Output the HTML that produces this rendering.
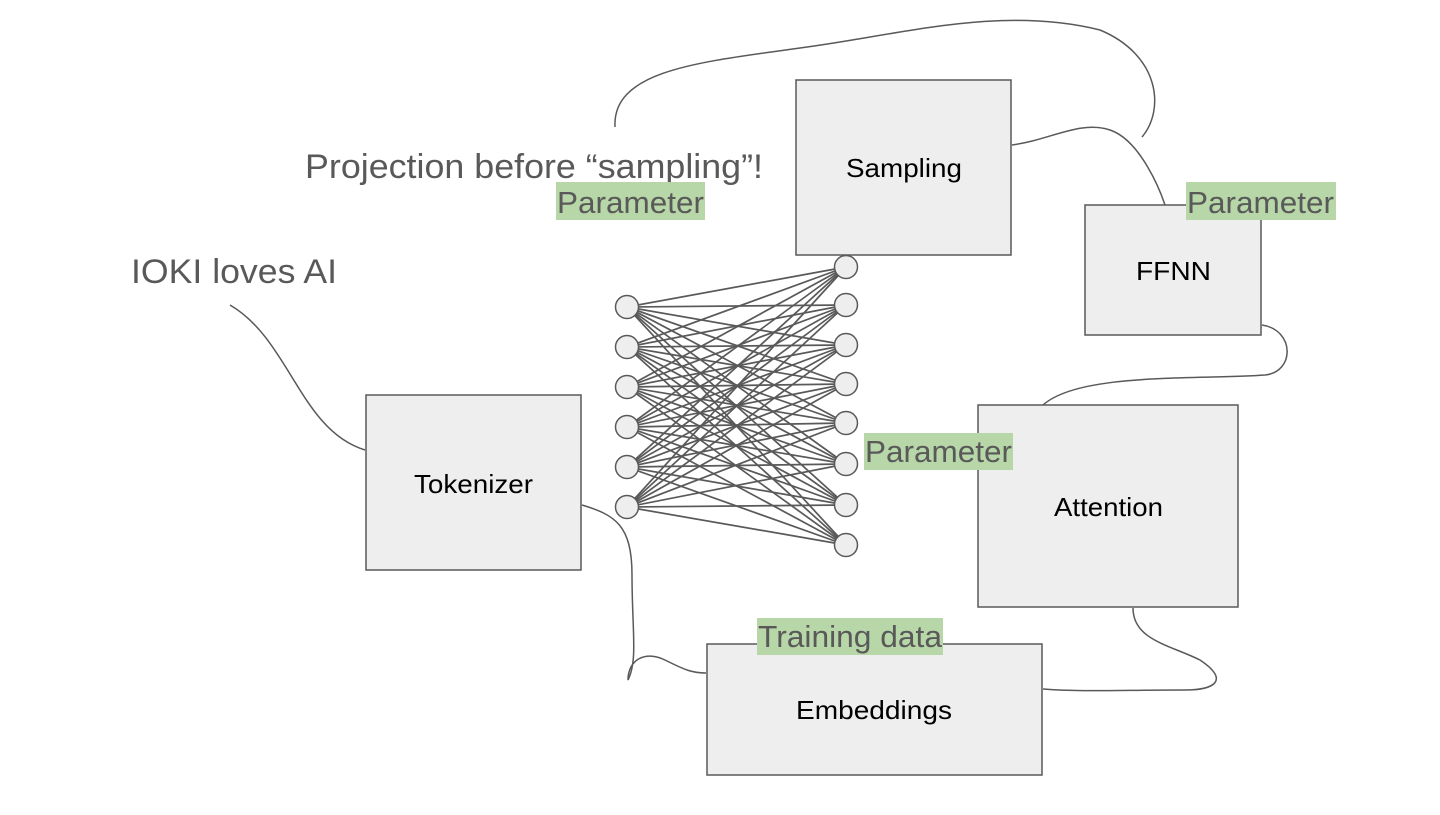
<!DOCTYPE html>
<html><head><meta charset="utf-8"><style>
body{margin:0;width:1440px;height:810px;background:#fff;overflow:hidden;font-family:"Liberation Sans",sans-serif}
</style></head><body>
<svg width="1440" height="810" xmlns="http://www.w3.org/2000/svg" font-family="Liberation Sans, sans-serif">
<g fill="none" stroke="#595959" stroke-width="1.5">
<path d="M230,305 C290,340 300,430 365,450"/>
<path d="M615,127 C612,70 700,62 800,48 C900,35 1000,5 1100,30 C1160,55 1165,110 1142,137"/>
<path d="M1012,145 C1050,140 1080,120 1110,130 C1140,140 1160,190 1165,205"/>
<path d="M1262,325 C1295,330 1295,372 1265,375 C1200,380 1080,372 1043,405"/>
<path d="M582,505 C615,515 632,525 632,575 C632,630 638,660 628,680 C628,660 645,650 665,660 C685,670 692,673 706,673"/>
<path d="M1133,608 C1133,640 1170,645 1200,660 C1230,680 1215,690 1185,690 C1120,690 1080,692 1043,689"/>
</g>
<g fill="#eeeeee" stroke="#595959" stroke-width="1.5">
<rect x="796" y="80" width="215" height="175"/>
<rect x="1085" y="205" width="176" height="130"/>
<rect x="366" y="395" width="215" height="175"/>
<rect x="978" y="405" width="260" height="202"/>
<rect x="707" y="644" width="335" height="131"/>
</g>
<g id="edges" stroke="#595959" stroke-width="1.7"></g>
<g id="nodes" fill="#eeeeee" stroke="#595959" stroke-width="1.5"></g>
<g font-size="26" fill="#000">
<text x="846" y="177" textLength="116" lengthAdjust="spacingAndGlyphs">Sampling</text>
<text x="1136" y="280" textLength="75" lengthAdjust="spacingAndGlyphs">FFNN</text>
<text x="414" y="493" textLength="119" lengthAdjust="spacingAndGlyphs">Tokenizer</text>
<text x="1054" y="516" textLength="109" lengthAdjust="spacingAndGlyphs">Attention</text>
<text x="796" y="719" textLength="156" lengthAdjust="spacingAndGlyphs">Embeddings</text>
</g>
<g fill="#595959" font-size="34">
<text x="305" y="178" textLength="458" lengthAdjust="spacingAndGlyphs">Projection before “sampling”!</text>
<text x="131" y="283" textLength="206" lengthAdjust="spacingAndGlyphs">IOKI loves AI</text>
</g>
<g fill="#b7d7a8">
<rect x="556" y="182" width="149" height="38"/>
<rect x="1186" y="182" width="150" height="38"/>
<rect x="864" y="433" width="149" height="37"/>
<rect x="757" y="618" width="186" height="37"/>
</g>
<g fill="#595959" font-size="31">
<text x="557" y="213" textLength="147" lengthAdjust="spacingAndGlyphs">Parameter</text>
<text x="1187" y="213" textLength="147" lengthAdjust="spacingAndGlyphs">Parameter</text>
<text x="865" y="462" textLength="147" lengthAdjust="spacingAndGlyphs">Parameter</text>
<text x="758" y="647" textLength="184" lengthAdjust="spacingAndGlyphs">Training data</text>
</g>
</svg>
<script>
var L=[307,347,387,427,467,507],R=[267,305,345,384,423,464,505,545];
var e=document.getElementById('edges'),n=document.getElementById('nodes'),ns='http://www.w3.org/2000/svg';
L.forEach(function(a){R.forEach(function(b){var l=document.createElementNS(ns,'line');l.setAttribute('x1',627);l.setAttribute('y1',a);l.setAttribute('x2',846);l.setAttribute('y2',b);e.appendChild(l);});});
L.forEach(function(a){var c=document.createElementNS(ns,'circle');c.setAttribute('cx',627);c.setAttribute('cy',a);c.setAttribute('r',11.5);n.appendChild(c);});
R.forEach(function(a){var c=document.createElementNS(ns,'circle');c.setAttribute('cx',846);c.setAttribute('cy',a);c.setAttribute('r',11.5);n.appendChild(c);});
</script>
</body></html>
